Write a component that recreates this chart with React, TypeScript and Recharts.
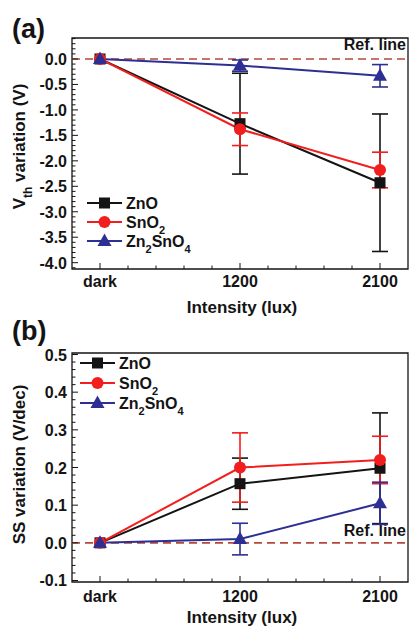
import React from 'react';
import { LineChart, Line, XAxis, YAxis, ErrorBar, ReferenceLine, ReferenceArea, Label } from 'recharts';

const categories = ['dark', '1200', '2100'];
const xPos = [0, 1, 2];

// (a) Vth variation (V)
const vthZnO = [0, -1.27, -2.43];
const vthZnOErr = [0, 0.99, 1.35];
const vthSnO2 = [0, -1.38, -2.18];
const vthSnO2Err = [0, 0.32, 0.35];
const vthZTO = [0, -0.13, -0.33];
const vthZTOErr = [0, 0.11, 0.22];

// (b) SS variation (V/dec)
const ssZnO = [0, 0.157, 0.198];
const ssZnOErr = [0, 0.068, 0.147];
const ssSnO2 = [0, 0.2, 0.22];
const ssSnO2Err = [0, 0.092, 0.063];
const ssZTO = [0, 0.01, 0.105];
const ssZTOErr = [0, 0.042, 0.056];

const xTicks = [0, 0.2, 0.4, 0.6, 0.8, 1, 1.2, 1.4, 1.6, 1.8, 2];
const vthTicks = Array.from({ length: 46 }, (_, i) => (i - 41) / 10);
const ssTicks = Array.from({ length: 31 }, (_, i) => (i - 5) / 50);

const FONT = '"Liberation Sans", Arial, sans-serif';
const BLACK = '#141414';
const RED = '#f21d1d';
const BLUE = '#2d2f93';
const REF = '#b5473a';

const buildRows = (zno: number[], znoE: number[], sno: number[], snoE: number[], zto: number[], ztoE: number[]) =>
  xPos.map((x, i) => ({ x, zno: zno[i], znoE: znoE[i], sno: sno[i], snoE: snoE[i], zto: zto[i], ztoE: ztoE[i] }));

const vthData = buildRows(vthZnO, vthZnOErr, vthSnO2, vthSnO2Err, vthZTO, vthZTOErr);
const ssData = buildRows(ssZnO, ssZnOErr, ssSnO2, ssSnO2Err, ssZTO, ssZTOErr);

const Square = ({ cx, cy, color }: any) => <rect x={cx - 5.5} y={cy - 5.5} width={11} height={11} fill={color} />;
const Circle = ({ cx, cy, color }: any) => <circle cx={cx} cy={cy} r={6} fill={color} />;
const Triangle = ({ cx, cy, color }: any) => (
  <polygon points={`${cx},${cy - 7.5} ${cx - 7},${cy + 5} ${cx + 7},${cy + 5}`} fill={color} />
);

const XTick = ({ x, y, payload, labelDy }: any) => {
  const idx = xPos.indexOf(payload.value);
  return (
    <g>
      <line x1={x} x2={x} y1={y} y2={y - (idx >= 0 ? 6 : 3.5)} stroke={BLACK} strokeWidth={1} />
      {idx >= 0 && (
        <text x={x} y={y + labelDy} textAnchor="middle" fontSize={16} fontWeight="bold" fontFamily={FONT} fill={BLACK}>
          {categories[idx]}
        </text>
      )}
    </g>
  );
};

const YTick = ({ x, y, payload, step, digits }: any) => {
  const v = payload.value;
  const major = Math.abs(v / step - Math.round(v / step)) < 1e-6;
  return (
    <g>
      <line x1={x} x2={x + (major ? 6 : 3.5)} y1={y} y2={y} stroke={BLACK} strokeWidth={1} />
      {major && (
        <text x={x - 5} y={y + 6} textAnchor="end" fontSize={16} fontWeight="bold" fontFamily={FONT} fill={BLACK}>
          {(Math.abs(v) < 1e-9 ? 0 : v).toFixed(digits)}
        </text>
      )}
    </g>
  );
};

const LegendBox = ({ left, top, rowGap }: any) => {
  const items = [
    { name: <>ZnO</>, color: BLACK, Mark: Square },
    { name: <>SnO<tspan baselineShift="sub" fontSize={11}>2</tspan></>, color: RED, Mark: Circle },
    { name: <>Zn<tspan baselineShift="sub" fontSize={11}>2</tspan>SnO<tspan baselineShift="sub" fontSize={11}>4</tspan></>, color: BLUE, Mark: Triangle },
  ];
  return (
    <svg width={120} height={rowGap * 3 + 4} style={{ position: 'absolute', left, top }}>
      {items.map((it, i) => {
        const cy = 10 + i * rowGap;
        return (
          <g key={i}>
            <line x1={0} x2={35} y1={cy} y2={cy} stroke={it.color} strokeWidth={2} />
            <it.Mark cx={17.5} cy={cy} color={it.color} />
            <text x={39} y={cy + 6} fontSize={16} fontWeight="bold" fontFamily={FONT} fill={BLACK}>
              {it.name}
            </text>
          </g>
        );
      })}
    </svg>
  );
};

const refLabel = (dy: number) => (props: any) => {
  const { viewBox } = props;
  return (
    <text x={viewBox.x + viewBox.width - 2} y={viewBox.y + dy} textAnchor="end" fontSize={16} fontWeight="bold" fontFamily={FONT} fill={BLACK}>
      Ref. line
    </text>
  );
};

function Panel({ data, height, top, xAxisH, domain, yTicks, step, digits, yTitle, yShift, labelDy, titleDy, refDy }: any) {
  return (
    <LineChart width={409} height={height} data={data} margin={{ top, right: 1, left: 0, bottom: 0 }}>
      <XAxis
        type="number"
        dataKey="x"
        domain={[-0.2, 2.2]}
        ticks={xTicks}
        interval={0}
        height={xAxisH}
        tickSize={0}
        tickMargin={0}
        axisLine={false}
        tickLine={false}
        tick={<XTick labelDy={labelDy} />}
      >
        <Label
          content={(p: any) => (
            <text x={p.viewBox.x + p.viewBox.width / 2 + 2} y={p.viewBox.y + titleDy} textAnchor="middle" fontSize={17} fontWeight="bold" fontFamily={FONT} fill={BLACK}>
              Intensity (lux)
            </text>
          )}
        />
      </XAxis>
      <YAxis
        type="number"
        domain={domain}
        ticks={yTicks}
        interval={0}
        width={72}
        tickSize={0}
        tickMargin={0}
        axisLine={false}
        tickLine={false}
        allowDataOverflow
        tick={<YTick step={step} digits={digits} />}
      >
        <Label
          content={(p: any) => {
            const cx = p.viewBox.x + 25;
            const cy = p.viewBox.y + p.viewBox.height / 2 + yShift;
            return (
              <text x={cx} y={cy} transform={`rotate(-90 ${cx} ${cy})`} textAnchor="middle" fontSize={17} fontWeight="bold" fontFamily={FONT} fill={BLACK}>
                {yTitle}
              </text>
            );
          }}
        />
      </YAxis>
      <ReferenceArea x1={-0.2} x2={2.2} y1={domain[0]} y2={domain[1]} fill="none" stroke={BLACK} strokeWidth={1.3} ifOverflow="visible" />
      <ReferenceLine y={0} stroke={REF} strokeWidth={1.6} strokeDasharray="8 5" label={refLabel(refDy)} />
      <Line dataKey="zno" stroke={BLACK} strokeWidth={2} isAnimationActive={false}
        dot={(p: any) => <Square key={`zs${p.index}`} cx={p.cx} cy={p.cy} color={BLACK} />}>
        <ErrorBar dataKey="znoE" direction="y" width={8} stroke={BLACK} strokeWidth={1.6} />
      </Line>
      <Line dataKey="sno" stroke={RED} strokeWidth={2} isAnimationActive={false}
        dot={(p: any) => <Circle key={`sc${p.index}`} cx={p.cx} cy={p.cy} color={RED} />}>
        <ErrorBar dataKey="snoE" direction="y" width={8} stroke={RED} strokeWidth={1.6} />
      </Line>
      <Line dataKey="zto" stroke={BLUE} strokeWidth={2} isAnimationActive={false}
        dot={(p: any) => <Triangle key={`zt${p.index}`} cx={p.cx} cy={p.cy} color={BLUE} />}>
        <ErrorBar dataKey="ztoE" direction="y" width={8} stroke={BLUE} strokeWidth={1.6} />
      </Line>
    </LineChart>
  );
}

const tag = (text: string, top: number) => (
  <div style={{ position: 'absolute', left: 12, top, fontSize: 27, fontWeight: 'bold', fontFamily: FONT, color: BLACK, lineHeight: 1 }}>{text}</div>
);

export default function App() {
  return (
    <div style={{ position: 'absolute', left: 0, top: 0, width: 409, height: 627, background: '#fff', overflow: 'hidden' }}>
      <div style={{ position: 'absolute', left: 0, top: 0 }}>
        <Panel
          data={vthData}
          height={320}
          top={38}
          xAxisH={51}
          domain={[-4.124, 0.412]}
          yTicks={vthTicks}
          step={0.5}
          digits={1}
          yTitle={<>V<tspan baselineShift="sub" fontSize={12}>th</tspan> variation (V)</>}
          yShift={-7}
          labelDy={18}
          titleDy={44}
          refDy={-9}
        />
      </div>
      <div style={{ position: 'absolute', left: 0, top: 320 }}>
        <Panel
          data={ssData}
          height={307}
          top={33}
          xAxisH={45}
          domain={[-0.104, 0.504]}
          yTicks={ssTicks}
          step={0.1}
          digits={1}
          yTitle="SS variation (V/dec)"
          yShift={-3}
          labelDy={20}
          titleDy={41}
          refDy={-7}
        />
      </div>
      <LegendBox left={87} top={193} rowGap={19} />
      <LegendBox left={80} top={353} rowGap={20} />
      {tag('(a)', 16)}
      {tag('(b)', 318)}
    </div>
  );
}
